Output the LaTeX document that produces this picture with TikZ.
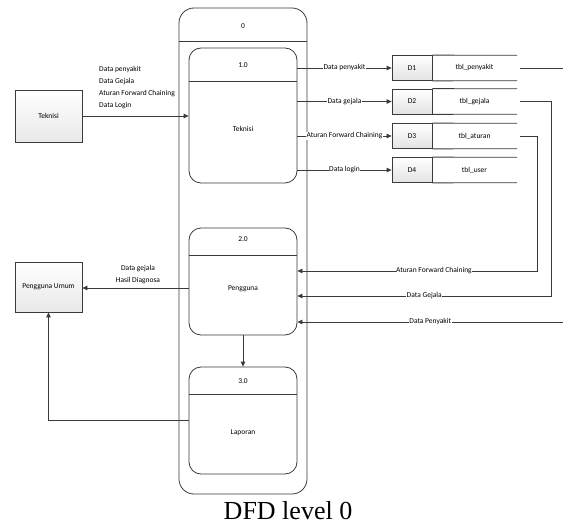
\documentclass[tikz,border=0pt]{standalone}
\usepackage{fontspec}
\setmainfont{Carlito}
\newfontfamily\capfont{Liberation Serif}
\usetikzlibrary{arrows.meta,shapes.geometric}
\definecolor{ln}{HTML}{3A3A3A}
\tikzset{
  every node/.style={font=\fontsize{7.5}{9}\selectfont, text=black},
  proc/.style={draw=ln, line width=0.8pt, rounded corners=12pt, minimum width=108pt, inner sep=0pt},
  extent/.style={draw=ln, line width=0.8pt, top color=white, bottom color=gray!18, minimum width=67pt, inner sep=0pt},
  dbox/.style={draw=ln, line width=0.8pt, top color=white, bottom color=gray!22, minimum width=40pt, minimum height=25pt, inner sep=0pt},
  tbox/.style={minimum width=85pt, minimum height=25pt, inner sep=0pt},
  flow/.style={draw=ln, line width=0.8pt, -{Triangle[length=5pt,width=4.5pt]}},
  plain/.style={draw=ln, line width=0.8pt},
  lab/.style={fill=white, inner sep=0.6pt},
}
\begin{document}
\begin{tikzpicture}[x=1pt,y=-1pt]
\useasboundingbox (0,0) rectangle (563,524);
% container
\node[draw=ln, line width=0.8pt, rounded corners=15pt, minimum width=128pt, minimum height=486pt, inner sep=0pt] (c0) at (243,251) {};
\draw[plain] (c0.west |- 0,41) -- (c0.east |- 0,41);
\node (c0t) at (243,26) {0};
% processes
\node[proc, minimum height=135pt] (p1) at (243,115.5) {};
\draw[plain] (p1.west |- 0,81) -- (p1.east |- 0,81);
\node (p1n) at (243,65) {1.0};
\node (p1t) at (243,129) {Teknisi};
\node[proc, minimum height=107pt] (p2) at (243,281.5) {};
\draw[plain] (p2.west |- 0,255) -- (p2.east |- 0,255);
\node (p2n) at (243,239) {2.0};
\node (p2t) at (243,289) {Pengguna};
\node[proc, minimum height=107pt] (p3) at (243,420.5) {};
\draw[plain] (p3.west |- 0,394) -- (p3.east |- 0,394);
\node (p3n) at (243,381) {3.0};
\node (p3t) at (243,433) {Laporan};
% external entities
\node[extent, minimum height=52pt] (e1) at (48.5,116) {Teknisi};
\node[extent, minimum height=50pt] (e2) at (48.5,287) {Pengguna Umum};
% data stores
\foreach \i/\y/\t in {1/68/tbl\_penyakit,2/101.5/tbl\_gejala,3/136/tbl\_aturan,4/170/tbl\_user}{
  \node[dbox] (D\i) at (412,\y) {D\i};
  \node[tbox] (T\i) at (474.5,\y) {\t};
  \draw[plain] (D\i.north east) -- (T\i.north east);
  \draw[plain] (D\i.south east) -- (T\i.south east);
}
% flows
\draw[flow] (e1.east) -- (e1.east -| p1.west);
\node[anchor=north west, align=left, font=\fontsize{7.5}{12}\selectfont, inner sep=0pt] (l1) at (99,66) {Data penyakit\\Data Gejala\\Aturan Forward Chaining\\Data Login};
\draw[flow] (p1.east |- D1) -- node[lab]{Data penyakit} (D1.west);
\draw[flow] (p1.east |- D2) -- node[lab]{Data gejala} (D2.west);
\draw[flow] (p1.east |- D3) -- node[lab]{Aturan Forward Chaining} (D3.west);
\draw[flow] (p1.east |- D4) -- node[lab]{Data login} (D4.west);
% returns
\coordinate (r1) at (563,68);
\draw[plain, shorten <=3pt] (T1.east) -- (r1);
\coordinate (g1) at (551,296);
\draw[flow, shorten <=3pt] (T2.east) -| (g1) -- node[lab]{Data Gejala} (p2.east |- g1);
\coordinate (a1) at (537,271);
\draw[flow, shorten <=3pt] (T3.east) -| (a1) -- node[lab, pos=0.43]{Aturan Forward Chaining} (p2.east |- a1);
\coordinate (pk) at (563,322);
\draw[flow] (pk) -- node[lab]{Data Penyakit} (p2.east |- pk);
% to user
\coordinate (u1) at (0,288);
\draw[flow] (p2.west |- u1) -- (e2.east |- u1);
\node[align=center, font=\fontsize{7.5}{12}\selectfont, inner sep=0pt] (l2) at (138,275) {Data gejala\\Hasil Diagnosa};
\draw[flow] (p2.south) -- (p3.north);
\coordinate (u2) at (0,420);
\draw[flow] (p3.west |- u2) -| (e2.south);
% caption
\node[anchor=base, font=\capfont\fontsize{26}{28}\selectfont, inner sep=0pt] (cap) at (288,519) {DFD level 0};
\end{tikzpicture}
\end{document}
